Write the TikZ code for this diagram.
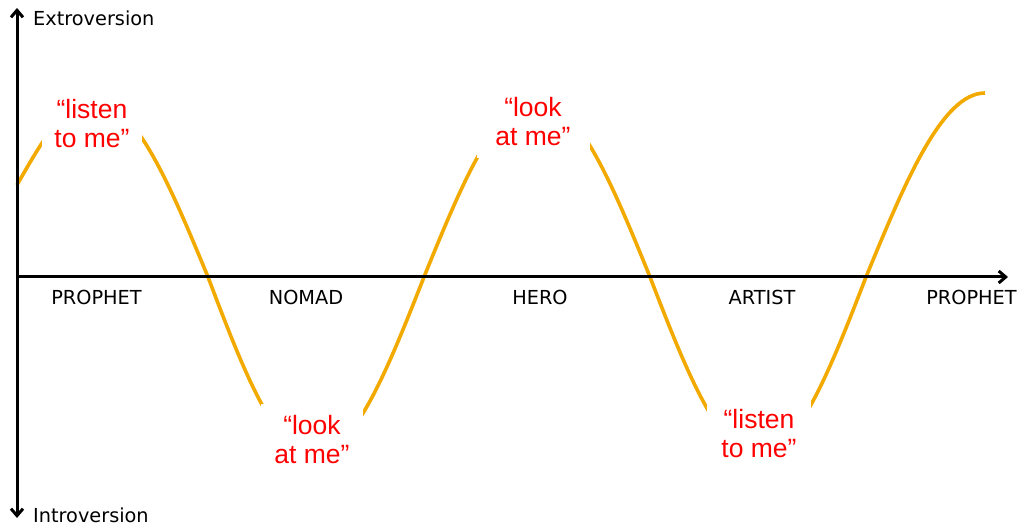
\documentclass[tikz,border=0pt]{standalone}
\usepackage{fontspec}
\setmainfont{Liberation Sans}
\newfontfamily\axisfont{DejaVu Sans}
\usetikzlibrary{arrows.meta}
\definecolor{wavecol}{RGB}{242,170,0}
\definecolor{labred}{RGB}{255,0,0}
\begin{document}
\begin{tikzpicture}[x=1pt,y=-1pt,
  >={Straight Barb[length=7pt,width=12pt]},
  axis/.style={line width=3pt, draw=black},
  wave/.style={line width=3.6pt, draw=wavecol},
  redlab/.style={fill=white, text=labred, align=center,
    font=\fontsize{26.5}{29}\selectfont, inner xsep=0pt, inner ysep=12pt},
  axlab/.style={font=\axisfont\fontsize{19.3}{21}\selectfont, inner sep=0pt}]
\useasboundingbox (0,0) rectangle (1021,526);
% the wave
\draw[wave] (17,185) sin (93,100) cos (208,277) sin (314,455) cos (424,277)
  sin (537,100) cos (650,277) sin (758,455) cos (866,277) sin (985,93);
% labels that interrupt the wave
\node[redlab, minimum width=100pt] (l1) at (92,124) {“listen\\to me”};
\node[redlab, minimum width=102pt] (l2) at (312,440) {“look\\at me”};
\node[redlab, minimum width=113pt] (l3) at (533,122) {“look\\at me”};
\node[redlab, minimum width=104pt] (l4) at (759,434) {“listen\\to me”};
% axes
\coordinate (top) at (17,8);
\coordinate (bot) at (17,518);
\coordinate (org) at (17,277);
\coordinate (end) at (1008,277);
\draw[axis, <->] (bot) -- (top);
\draw[axis, ->] (org) -- (end);
% axis labels
\node[axlab, anchor=base west] (ext) at (33,26) {Extroversion};
\node[axlab, anchor=base west] (intr) at (33,523) {Introversion};
\node[axlab, anchor=base] (p1) at (96.5,305) {PROPHET};
\node[axlab, anchor=base] (nm) at (306,305) {NOMAD};
\node[axlab, anchor=base] (hr) at (540,305) {HERO};
\node[axlab, anchor=base] (ar) at (762,305) {ARTIST};
\node[axlab, anchor=base] (p2) at (971.5,305) {PROPHET};
\end{tikzpicture}
\end{document}
